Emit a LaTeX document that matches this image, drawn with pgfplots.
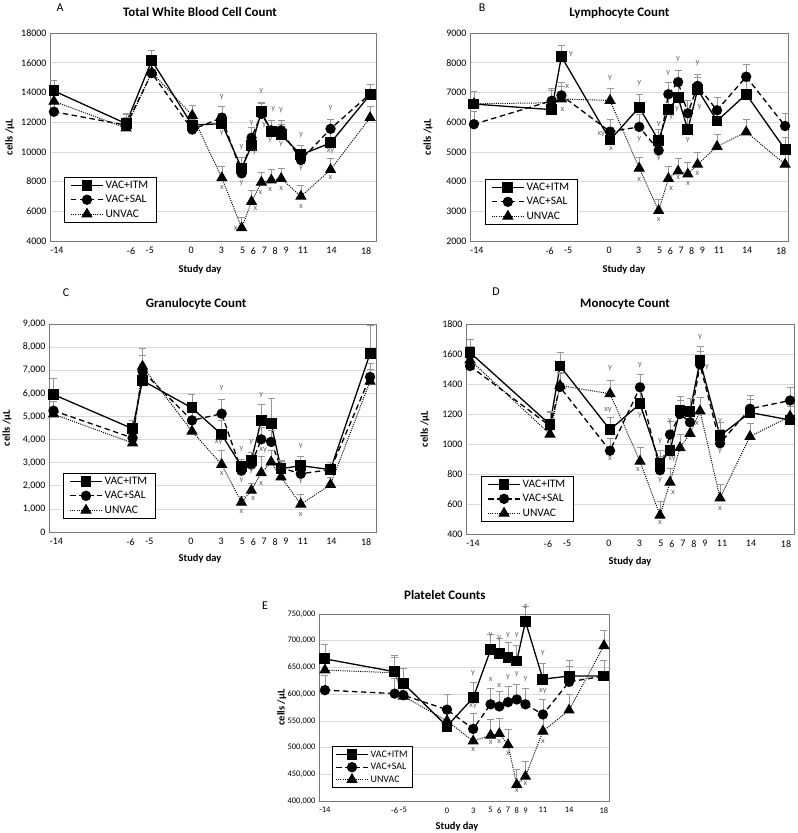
\documentclass[border=0pt]{standalone}
\usepackage{pgfplots}
\pgfplotsset{compat=1.18}
\usepackage{fontspec}
\setmainfont{Carlito}
\usetikzlibrary{plotmarks}

\definecolor{gridc}{RGB}{217,217,217}
\definecolor{framec}{RGB}{120,120,120}
\definecolor{errc}{RGB}{150,150,150}
\definecolor{letc}{RGB}{100,100,100}

\pgfplotsset{
  legend image code/.code={\draw[mark repeat=2,mark phase=2,#1] plot coordinates {(0bp,0bp) (16bp,0bp) (32bp,0bp)};},
  panel/.style={
    scale only axis, clip=false,
    axis line style={framec, line width=0.8bp},
    ymajorgrids, grid style={gridc, line width=0.6bp},
    major tick length=0pt,
    tick label style={font=\fontsize{10}{11}\selectfont},
    xticklabel style={yshift=-3bp},
    /pgf/number format/assume math mode=true,
    /pgf/number format/fixed,
    /pgf/number format/1000 sep={},
    scaled y ticks=false,
    xtick={-13.7,-6.2,-4.3,-0.1,2.95,5.1,6.2,7.3,8.4,9.5,11.2,14.1,17.6},
    xticklabels={-14,-6,-5,0,3,5,6,7,8,9,11,14,18},
    title style={font=\bfseries\fontsize{13}{14}\selectfont, anchor=center, yshift=-6pt},
    xlabel={Study day}, ylabel={cells /µL},
    label style={font=\bfseries\fontsize{10.5}{12}\selectfont},
    legend cell align=left,
    legend style={draw=black, line width=0.6bp, fill=white, font=\fontsize{11.5}{12.5}\selectfont, anchor=south west, inner xsep=6bp, inner ysep=2bp, row sep=1.5bp},
  },
  sITM/.style={color=black, line width=1.3bp, mark=square*, mark size=4.8bp, mark options={solid, fill=black}},
  sSAL/.style={color=black, line width=1.3bp, dash pattern=on 5.5bp off 3.5bp, mark=*, mark size=4.5bp, mark options={solid, fill=black}},
  sUN/.style={color=black, line width=1bp, dash pattern=on 1bp off 1.2bp, mark=triangle*, mark size=5.6bp, mark options={solid, fill=black}},
  ebar/.style={/pgfplots/error bars/y dir=plus, /pgfplots/error bars/y explicit,
     /pgfplots/error bars/error bar style={errc, solid, line width=0.7bp},
     /pgfplots/error bars/error mark options={errc, solid, rotate=90, mark size=3.5bp, line width=0.7bp}},
  letter/.style={forget plot, only marks, mark=text, text mark={#1}, text mark as node=true,
     text mark style={font=\fontsize{8.5}{9}\selectfont, text=letc, inner sep=0pt, anchor=center}},
}

\begin{document}
\begin{tikzpicture}
\useasboundingbox (0,0) rectangle (798bp,-833bp);

% ---------------- A ----------------
\begin{axis}[panel, at={(50bp,-241bp)}, anchor=south west, width=326bp, height=208bp,
  xmin=-14.4, xmax=18.6, ymin=4000, ymax=18000, ytick={4000,6000,...,18000},
  title={Total White Blood Cell Count}, title style={at={(axis description cs:0.46,1.101)}},
  xlabel style={at={(axis description cs:0.46,-0.139)}, anchor=center},
  ylabel style={at={(axis description cs:-0.123,0.5)}, anchor=center},
  legend style={at={(0.043,0.087)}}]
\addplot[sITM, ebar] table[x=x,y=y,y error=e] {
x y e
-14 14100 680
-6.7 11900 700
-4.1 16150 680
0 11800 700
3 11900 700
5 8900 700
6 10400 700
7 12700 650
8 11400 700
9 11150 700
11 9800 650
14 10600 700
18 13850 700
};
\addplot[sSAL, ebar] table[x=x,y=y,y error=e] {
x y e
-14 12700 700
-6.7 11800 700
-4.1 15300 700
0 11500 700
3 12300 750
5 8550 700
6 10950 700
7 12550 700
8 11450 700
9 11450 700
11 9450 700
14 11550 650
18 13900 650
};
\addplot[sUN, ebar] table[x=x,y=y,y error=e] {
x y e
-14 13400 700
-6.7 11600 700
-4.1 15350 700
0 12450 700
3 8250 750
5 4880 700
6 6650 750
7 7950 700
8 8100 700
9 8200 700
11 7000 750
14 8800 750
18 12300 750
};
\legend{VAC+ITM,VAC+SAL,UNVAC}
\addplot[letter=y] coordinates {(3,13700) (3,11250) (5,10350) (5,7900) (6,11950) (6.3,10000) (7,14100) (7.3,11800) (8.2,12870) (7.9,10800) (9,12820) (9,10530) (11,11130) (11,8880) (14,12940)};
\addplot[letter=x] coordinates {(3,7600) (4.4,4850) (6.4,6180) (6.9,7240) (7.9,7490) (9,7530) (11,6340) (14,8250)};
\addplot[letter=xy] coordinates {(14,10080)};
\end{axis}

% ---------------- B ----------------
\begin{axis}[panel, at={(470bp,-241bp)}, anchor=south west, width=318bp, height=208bp,
  xmin=-14.4, xmax=18.3, ymin=2000, ymax=9000, ytick={2000,3000,...,9000},
  title={Lymphocyte Count}, title style={at={(axis description cs:0.47,1.096)}},
  xlabel style={at={(axis description cs:0.484,-0.139)}, anchor=center},
  ylabel style={at={(axis description cs:-0.132,0.5)}, anchor=center},
  legend style={at={(0.047,0.077)}}]
\addplot[sITM, ebar] table[x=x,y=y,y error=e] {
x y e
-14 6610 440
-6 6420 420
-5 8210 390
0 5400 420
3 6500 420
5 5380 380
6 6430 420
7 6830 420
8 5740 420
9 7100 420
11 6040 420
14 6940 420
18 5080 420
};
\addplot[sSAL, ebar] table[x=x,y=y,y error=e] {
x y e
-14 5930 450
-6 6720 420
-5 6900 430
0 5680 400
3 5840 420
5 5050 400
6 6940 390
7 7350 410
8 6300 420
9 7220 400
11 6400 420
14 7530 400
18 5870 410
};
\addplot[sUN, ebar] table[x=x,y=y,y error=e] {
x y e
-14 6620 420
-6 6650 420
-5 6780 420
0 6730 400
3 4450 380
5 3020 380
6 4100 400
7 4350 420
8 4250 400
9 4580 400
11 5180 410
14 5670 410
18 4580 420
};
\legend{VAC+ITM,VAC+SAL,UNVAC}
\addplot[letter=y] coordinates {(-4.0,8300) (0,7470) (3,7300) (3,5440) (5,5930) (5,4780) (6,7650) (6.3,6180) (7,8130) (6.9,6430) (8,5400) (9,7990) (9.2,6520)};
\addplot[letter=x] coordinates {(-4.4,7200) (-4.9,6410) (0.1,5120) (3,4070) (5,2720) (6.3,3760) (7,4150) (8,3930) (9,4270)};
\addplot[letter=xy] coordinates {(-0.9,5600)};
\end{axis}

% ---------------- C ----------------
\begin{axis}[panel, at={(49bp,-532bp)}, anchor=south west, width=327bp, height=208bp,
  xmin=-14.45, xmax=18.6, ymin=0, ymax=9000, ytick={0,1000,...,9000},
  /pgf/number format/1000 sep={,},
  title={Granulocyte Count}, title style={at={(axis description cs:0.45,1.096)}},
  xlabel style={at={(axis description cs:0.462,-0.13)}, anchor=center},
  ylabel style={at={(axis description cs:-0.128,0.5)}, anchor=center},
  legend style={at={(0.043,0.0625)}}]
\addplot[sITM, ebar] table[x=x,y=y,y error=e] {
x y e
-14 5950 700
-6 4470 350
-5 6550 700
0 5370 580
3 4220 600
5 2840 300
6 3100 350
7 4830 700
8 4690 1080
9 2740 300
11 2870 420
14 2700 300
18 7720 1220
};
\addplot[sSAL, ebar] table[x=x,y=y,y error=e] {
x y e
-14 5250 400
-6 4070 350
-5 6950 700
0 4830 500
3 5120 600
5 2650 300
6 2920 300
7 4010 500
8 3900 500
9 2780 300
11 2520 300
14 2700 300
18 6710 600
};
\addplot[sUN, ebar] table[x=x,y=y,y error=e] {
x y e
-14 5100 300
-6 3850 300
-5 7170 770
0 4360 400
3 2920 610
5 1280 260
6 1800 300
7 2560 700
8 3030 500
9 2380 300
11 1200 430
14 2050 300
18 6520 500
};
\legend{VAC+ITM,VAC+SAL,UNVAC}
\addplot[letter=y] coordinates {(3,6230) (5,3590) (5,2260) (6,3880) (6,2620) (7,5940) (11,3700) (11,2190)};
\addplot[letter=x] coordinates {(3,2550) (5,890) (6.2,1430) (7,2120) (11,750)};
\addplot[letter=xy] coordinates {(2.7,3900) (7.2,3560)};
\end{axis}

% ---------------- D ----------------
\begin{axis}[panel, at={(466bp,-534bp)}, anchor=south west, width=328bp, height=210bp,
  xmin=-14.4, xmax=18.4, ymin=400, ymax=1800, ytick={400,600,...,1800},
  title={Monocyte Count}, title style={at={(axis description cs:0.485,1.095)}},
  xlabel style={at={(axis description cs:0.5,-0.13)}, anchor=center},
  ylabel style={at={(axis description cs:-0.125,0.5)}, anchor=center},
  legend style={at={(0.046,0.057)}}]
\addplot[sITM, ebar] table[x=x,y=y,y error=e] {
x y e
-14 1610 85
-6 1130 85
-5 1520 90
0 1095 85
3 1268 90
5 870 85
6 955 85
7 1225 90
8 1215 90
9 1555 95
11 1055 90
14 1210 90
18 1160 90
};
\addplot[sSAL, ebar] table[x=x,y=y,y error=e] {
x y e
-14 1520 90
-6 1120 90
-5 1380 90
0 955 85
3 1378 85
5 825 90
6 1063 90
7 1200 90
8 1145 90
9 1530 90
11 1005 90
14 1235 90
18 1290 90
};
\addplot[sUN, ebar] table[x=x,y=y,y error=e] {
x y e
-14 1560 90
-6 1065 90
-5 1390 90
0 1335 90
3 885 90
5 525 90
6 745 90
7 975 90
8 1070 90
9 1220 90
11 640 90
14 1050 90
18 1185 90
};
\legend{VAC+ITM,VAC+SAL,UNVAC}
\addplot[letter=y] coordinates {(0,1506) (3,1528) (3,1190) (5,1021) (5,756) (6,1155) (9,1713) (9.7,1513) (11,1155) (11,954)};
\addplot[letter=xy] coordinates {(-0.2,1224) (6.2,900)};
\addplot[letter=x] coordinates {(0,905) (2.8,830) (5,478) (6.3,680) (8.7,1135) (11,571)};
\end{axis}

% ---------------- E ----------------
\begin{axis}[panel, at={(319bp,-801bp)}, anchor=south west, width=290bp, height=187bp,
  xmin=-14.68, xmax=18.58, ymin=400000, ymax=750000, ytick={400000,450000,...,750000},
  /pgf/number format/1000 sep={,},
  tick label style={font=\fontsize{8.5}{9}\selectfont},
  xtick={-14,-6,-5,0,3,5,6,7,8,9,11,14,18},
  title={Platelet Counts}, title style={at={(axis description cs:0.434,1.102)}},
  xlabel style={at={(axis description cs:0.476,-0.139)}, anchor=center},
  ylabel style={at={(axis description cs:-0.128,0.5)}, anchor=center},
  legend style={at={(0.045,0.07)}, font=\fontsize{10}{11}\selectfont, inner xsep=3bp, row sep=0.5bp}]
\addplot[sITM, ebar] table[x=x,y=y,y error=e] {
x y e
-14 666000 28000
-6 642000 30000
-5 620000 28000
0 540000 28000
3 593000 29000
5 683000 29000
6 676000 29000
7 668000 29000
8 662000 29000
9 736000 29000
11 628000 30000
14 634000 30000
18 634000 30000
};
\addplot[sSAL, ebar] table[x=x,y=y,y error=e] {
x y e
-14 607500 28000
-6 601000 29000
-5 598000 28000
0 571000 29000
3 535000 29000
5 581000 29000
6 577000 29000
7 585000 29000
8 590000 29000
9 581000 29000
11 562000 29000
14 623000 29000
18 634000 29000
};
\addplot[sUN, ebar] table[x=x,y=y,y error=e] {
x y e
-14 645000 28000
-6 640000 28000
-5 596000 28000
0 550000 28000
3 512000 29000
5 523000 29000
6 526000 29000
7 505000 29000
8 430600 29000
9 446000 29000
11 530600 29000
14 570000 29000
18 690600 29000
};
\legend{VAC+ITM,VAC+SAL,UNVAC}
\addplot[letter=y] coordinates {(3,638750) (5,710600) (6,705600) (7,710600) (8,710600) (7,632500) (8,636900) (9,627500) (11,676250)};
\addplot[letter=xy] coordinates {(3,578000) (11,606250)};
\addplot[letter=x] coordinates {(3,496000) (5,628000) (6,617000) (5,508750) (6,510600) (7,488750) (8,420000) (9,432500) (11,512000)};
\addplot[letter=z] coordinates {(9,763750)};
\end{axis}

% panel letters
\node[font=\fontsize{12}{12}\selectfont] at (60bp,-8bp) {A};
\node[font=\fontsize{12}{12}\selectfont] at (482bp,-8bp) {B};
\node[font=\fontsize{12}{12}\selectfont] at (66bp,-293bp) {C};
\node[font=\fontsize{12}{12}\selectfont] at (496bp,-292bp) {D};
\node[font=\fontsize{12}{12}\selectfont] at (265bp,-606bp) {E};
\end{tikzpicture}
\end{document}
